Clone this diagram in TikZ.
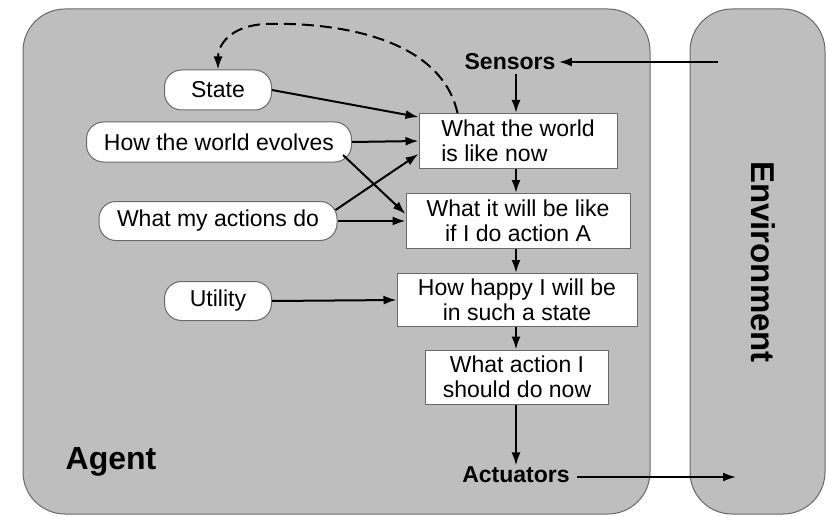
\documentclass[tikz,border=0pt]{standalone}
\usepackage{fontspec}
\setmainfont{Liberation Sans}
\usetikzlibrary{arrows.meta,calc}
\definecolor{panelgray}{RGB}{190,190,190}
\definecolor{edgegray}{RGB}{105,105,105}
\tikzset{
  panel/.style={draw=edgegray, fill=panelgray, line width=1pt},
  txt/.style={font=\fontsize{23}{25}\selectfont},
  pill/.style={txt, draw=edgegray, fill=white, line width=1pt, rounded corners=17pt, minimum height=40pt, inner sep=3pt},
  stepbox/.style={txt, draw=edgegray, fill=white, line width=1pt, align=center, inner xsep=4pt, inner ysep=2pt},
  lbl/.style={font=\fontsize{23}{25}\selectfont\bfseries},
  biglbl/.style={font=\fontsize{32}{36}\selectfont\bfseries},
  arr/.style={line width=2pt, -{Latex[length=13pt,width=9pt]}},
  dasharr/.style={arr, dash pattern=on 12pt off 6pt},
}
\begin{document}
\begin{tikzpicture}[x=1pt,y=-1pt]
\useasboundingbox (0,0) rectangle (827,516);
% panels
\draw[panel, rounded corners=42pt] (23,9) rectangle (650,514);
\draw[panel, rounded corners=42pt] (690,9) rectangle (825,514);
% labels
\node[biglbl] (agent) at (111,462) {Agent};
\node[biglbl, rotate=-90, font=\fontsize{33}{36}\selectfont\bfseries] (env) at (763,262) {Environment};
\node[lbl] (sensors) at (510,62) {Sensors};
\node[lbl] (actuators) at (516,475) {Actuators};
% pills
\node[pill, minimum width=107pt] (state) at (218,90) {State};
\node[pill, minimum width=265pt] (evolves) at (219,142) {How the world evolves};
\node[pill, minimum width=238pt, minimum height=39pt] (actions) at (218,221) {What my actions do};
\node[pill, minimum width=107pt, minimum height=39pt] (utility) at (218,301) {Utility};
% boxes
\node[stepbox, align=left, minimum width=198pt, minimum height=55pt] (now) at (518,141) {What the world\\is like now};
\node[stepbox, minimum width=224pt, minimum height=55pt] (will) at (518,221) {What it will be like\\if I do action A};
\node[stepbox, minimum width=240pt, minimum height=53pt] (happy) at (517,300) {How happy I will be\\in such a state};
\node[stepbox, minimum width=183pt, minimum height=54pt] (act) at (517,377) {What action I\\should do now};
% coordinates
\coordinate (col) at (516,0);
\coordinate (envin) at (718,62);
\coordinate (envout) at (736,477);
% vertical chain
\draw[arr] (envin) -- (sensors.east);
\draw[arr] (sensors.south -| col) -- (now.north -| col);
\draw[arr] (now.south -| col) -- (will.north -| col);
\draw[arr] (will.south -| col) -- (happy.north -| col);
\draw[arr] (happy.south -| col) -- (act.north -| col);
\draw[arr] (act.south -| col) -- ($(actuators.north -| col)+(0,2)$);
\draw[arr] ($(actuators.east)+(4,2)$) -- (envout);
% left inputs
\draw[arr] (state.east) -- ($(now.north west)+(0,4)$);
\draw[arr] (evolves.east) -- (now.west);
\draw[arr] ($(evolves.east)+(-9,13)$) -- ($(will.west)+(0,-7)$);
\draw[arr] ($(actions.east)+(-2,-11)$) -- ($(now.south west)+(0,-15)$);
\draw[arr] (actions.east) -- (will.west);
\draw[arr] (utility.east) -- (happy.west);
% feedback
\draw[dasharr] ($(now.north west)+(39,0)$) .. controls (440,35) and (330,22) .. (265,24) .. controls (230,26) and (218,45) .. (state.north);
\end{tikzpicture}
\end{document}
